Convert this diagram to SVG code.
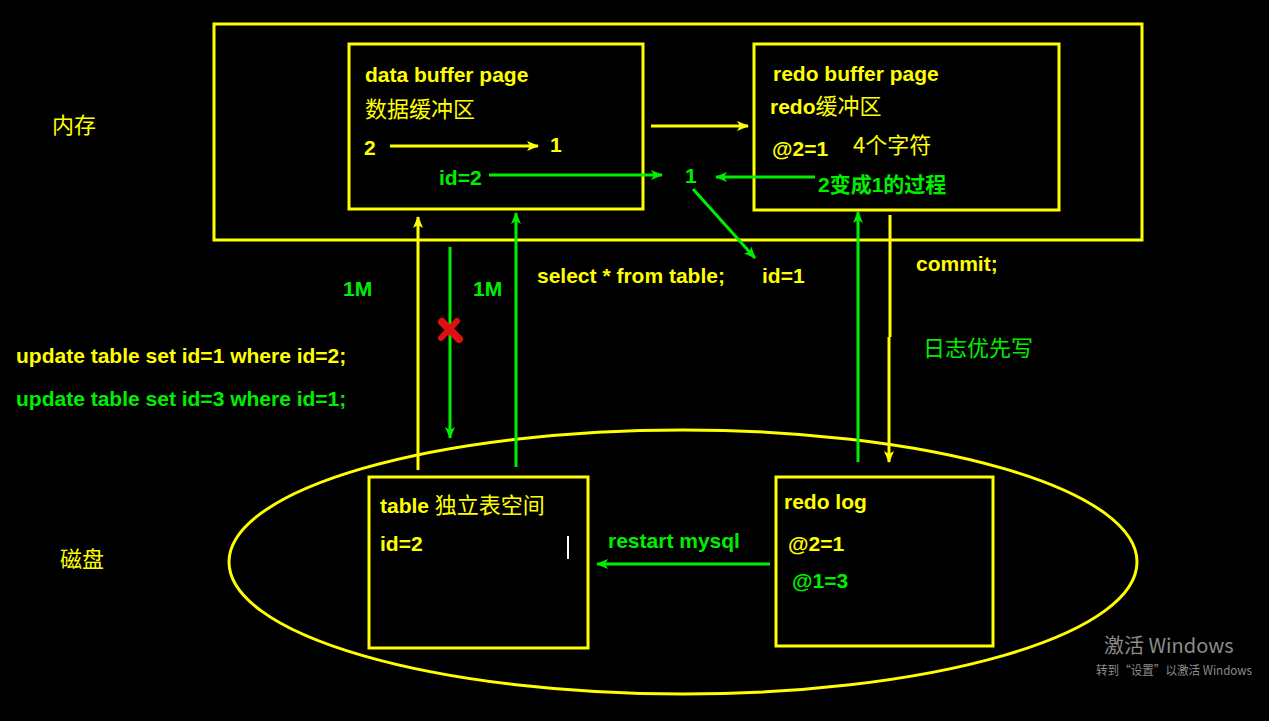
<svg xmlns="http://www.w3.org/2000/svg" width="1269" height="721" viewBox="0 0 1269 721">
<style>
.box{fill:none;stroke:#ffff00;stroke-width:3}
.t{font-family:"Liberation Sans","Noto Sans CJK SC",sans-serif;font-weight:bold;font-size:21px}
.c{font-family:"Noto Sans CJK SC","Liberation Sans",sans-serif;font-weight:normal;font-size:22px}
.y{fill:#ffff00}
.g{fill:#00ee00}
.ly{stroke:#ffff00;stroke-width:3;fill:none}
.lg{stroke:#00ee00;stroke-width:3;fill:none}
.wm{font-family:"Noto Sans CJK SC","Noto Sans",sans-serif;fill:#8c8c8c}
</style>
<defs>
<marker id="ay" viewBox="0 0 12 10" refX="11" refY="5" markerWidth="12" markerHeight="10" markerUnits="userSpaceOnUse" orient="auto">
<path d="M0,0 L12,5 L0,10 L3,5 Z" fill="#ffff00"/>
</marker>
<marker id="ag" viewBox="0 0 12 10" refX="11" refY="5" markerWidth="12" markerHeight="10" markerUnits="userSpaceOnUse" orient="auto">
<path d="M0,0 L12,5 L0,10 L3,5 Z" fill="#00ee00"/>
</marker>
</defs>
<rect width="1269" height="721" fill="#000"/>

<g id="memory">
<rect class="box" x="214" y="24" width="928" height="216"/>
<text class="c y" x="52" y="133">内存</text>
</g>

<g id="data-buffer-page">
<rect class="box" x="349" y="44" width="294" height="165"/>
<text class="t y" x="365" y="82">data buffer page</text>
<text class="c y" x="365" y="117">数据缓冲区</text>
<text class="t y" x="364" y="155">2</text>
<text class="t y" x="550" y="152">1</text>
<text class="t g" x="439" y="185">id=2</text>
</g>

<g id="redo-buffer-page">
<rect class="box" x="754" y="44" width="305" height="166"/>
<text class="t y" x="773" y="81">redo buffer page</text>
<text class="t y" x="770" y="114">redo<tspan style="font-family:'Noto Sans CJK SC',sans-serif;font-weight:normal;font-size:22px">缓冲区</tspan></text>
<text class="t y" x="772" y="156">@2=1</text>
<text class="c y" x="853" y="153" font-weight="500">4个字符</text>
<text class="t g" x="818" y="192">2变成1的过程</text>
</g>

<g id="disk">
<ellipse class="box" cx="683" cy="562" rx="454" ry="132"/>
<text class="c y" x="60" y="567">磁盘</text>
</g>

<g id="table-space">
<rect class="box" x="369" y="477" width="219" height="171"/>
<text class="t y" x="380" y="513">table <tspan style="font-family:'Noto Sans CJK SC',sans-serif;font-weight:normal;font-size:22px">独立表空间</tspan></text>
<text class="t y" x="380" y="551">id=2</text>
<line x1="568" y1="536" x2="568" y2="559" stroke="#ffffff" stroke-width="2"/>
</g>

<g id="redo-log">
<rect class="box" x="776" y="477" width="217" height="169"/>
<text class="t y" x="784" y="509">redo log</text>
<text class="t y" x="788" y="551">@2=1</text>
<text class="t g" x="792" y="588">@1=3</text>
</g>

<g id="labels">
<text class="t g" x="685" y="183">1</text>
<text class="t y" x="537" y="283">select * from table;</text>
<text class="t y" x="762" y="283">id=1</text>
<text class="t y" x="916" y="271">commit;</text>
<text class="c g" x="923" y="356">日志优先写</text>
<text class="t g" x="343" y="296">1M</text>
<text class="t g" x="473" y="296">1M</text>
<text class="t y" x="16" y="363">update table set id=1 where id=2;</text>
<text class="t g" x="16" y="406">update table set id=3 where id=1;</text>
<text class="t g" x="608" y="548">restart mysql</text>
</g>

<g id="connectors">
<line class="ly" x1="390" y1="146" x2="538" y2="146" marker-end="url(#ay)"/>
<line class="lg" x1="489" y1="175" x2="662" y2="175" marker-end="url(#ag)"/>
<line class="ly" x1="651" y1="126" x2="748" y2="126" marker-end="url(#ay)"/>
<line class="lg" x1="815" y1="177" x2="716" y2="177" marker-end="url(#ag)"/>
<line class="lg" x1="693" y1="189" x2="755" y2="258" marker-end="url(#ag)"/>
<line class="ly" x1="418" y1="470" x2="418" y2="217" marker-end="url(#ay)"/>
<line class="lg" x1="450" y1="247" x2="450" y2="438" marker-end="url(#ag)"/>
<line class="lg" x1="516" y1="467" x2="516" y2="213" marker-end="url(#ag)"/>
<line class="lg" x1="858" y1="462" x2="858" y2="212" marker-end="url(#ag)"/>
<path class="ly" d="M890,215 V337 M889,337 V462" marker-end="url(#ay)"/>
<line class="lg" x1="770" y1="564" x2="597" y2="564" marker-end="url(#ag)"/>
<g id="red-x" stroke="#e01010" stroke-linecap="round" fill="none">
<path d="M442,322 Q450,330 459,339" stroke-width="8"/>
<path d="M457,321 Q449,330 441,338" stroke-width="6"/>
</g>
</g>

<g id="watermark">
<text class="wm" x="1104" y="653" font-size="20">激活 Windows</text>
<text class="wm" x="1096" y="675" font-size="12.5" textLength="156" lengthAdjust="spacingAndGlyphs">转到“设置”以激活 Windows</text>
</g>
</svg>
